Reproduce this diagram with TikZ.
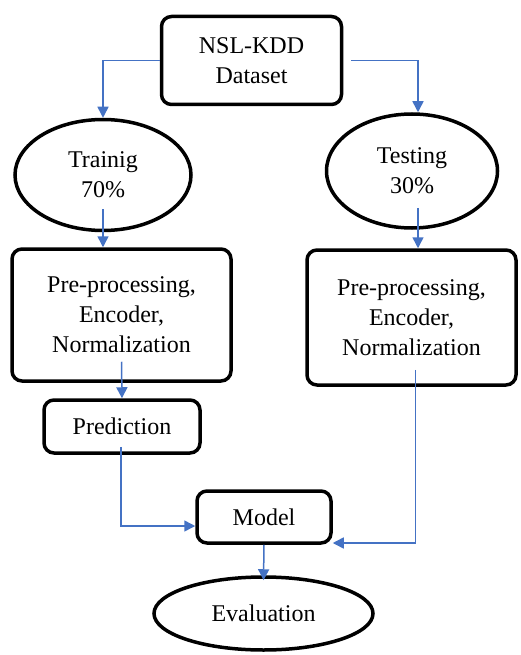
\documentclass[tikz,border=0pt]{standalone}
\usepackage{fontspec}
\setmainfont{Liberation Serif}
\usetikzlibrary{arrows.meta,shapes.geometric}
\definecolor{flowblue}{RGB}{68,114,196}
\begin{document}
\begin{tikzpicture}[x=1pt, y=-1pt, line width=3.5pt,
  every node/.style={font=\fontsize{24}{30}\selectfont, align=center, inner sep=0pt},
  box/.style={draw, rounded corners=10pt},
  oval/.style={draw, ellipse},
  flow/.style={draw=flowblue, line width=1.5pt, -{Triangle[width=11pt,length=11pt]}}]
  \useasboundingbox (0,0) rectangle (520,655);
  \node[box, minimum width=180pt, minimum height=88pt] (data) at (251.5,60.5) {NSL-KDD\\Dataset};
  \node[oval, minimum width=176pt, minimum height=111pt] (train) at (103,175) {Trainig\\70\%};
  \node[oval, minimum width=171pt, minimum height=114pt] (test) at (412,171) {Testing\\30\%};
  \node[box, minimum width=219pt, minimum height=132pt] (prepA) at (121.5,315) {Pre-processing,\\Encoder,\\Normalization};
  \node[box, minimum width=209pt, minimum height=135pt] (prepB) at (411.5,317.5) {Pre-processing,\\Encoder,\\Normalization};
  \node[box, minimum width=156pt, minimum height=53pt] (pred) at (122,426.5) {Prediction};
  \node[box, minimum width=134pt, minimum height=52pt] (model) at (264,517) {Model};
  \node[oval, minimum width=219pt, minimum height=73pt] (eval) at (263.5,613.5) {Evaluation};
  % connectors
  \draw[flow] (data.west) -| (train.north);
  \draw[flow, shorten <=8pt] (data.east) -| ([xshift=6pt]test.north);
  \draw[flow] ([yshift=23pt]train.south) -- (train.south |- prepA.north);
  \draw[flow] ([xshift=6pt,yshift=22pt]test.south) -- ([xshift=6pt]test.south |- prepB.north);
  \draw[flow] ([yshift=21pt]prepA.south) -- (pred.north);
  \draw[flow] ([xshift=-1pt,yshift=8pt]pred.south) |- ([yshift=-9pt]model.west);
  \draw[flow] ([xshift=4pt,yshift=17pt]prepB.south) |- ([yshift=-26pt]model.east);
  \draw[flow] (model.south) -- ([yshift=-5pt]eval.north);
\end{tikzpicture}
\end{document}
